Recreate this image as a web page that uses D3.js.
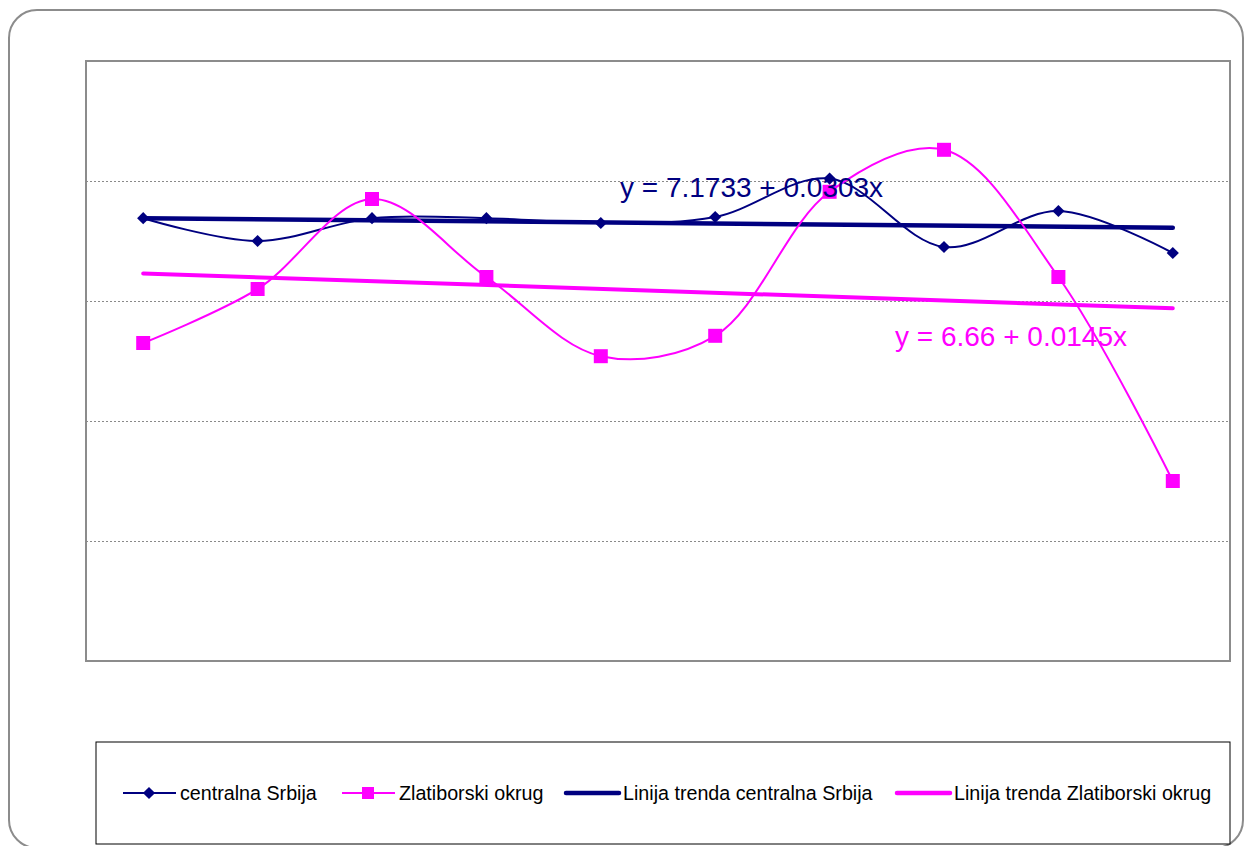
<!DOCTYPE html>
<html>
<head>
<meta charset="utf-8">
<script src="https://cdn.jsdelivr.net/npm/d3@7"></script>
<style>
  html, body { margin: 0; padding: 0; background: #fff; }
  svg { display: block; font-family: "Liberation Sans", Arial, sans-serif; }
</style>
</head>
<body>
<svg id="chart" width="1246" height="846"></svg>
<script>
// Ten periods along the x axis (no tick labels shown)
const categories = [1, 2, 3, 4, 5, 6, 7, 8, 9, 10];

// Series values
const centralnaSrbija = [7.19, 7.00, 7.19, 7.19, 7.15, 7.20, 7.52, 6.95, 7.25, 6.90];
const zlatiborskiOkrug = [6.15, 6.60, 7.35, 6.70, 6.04, 6.21, 7.41, 7.76, 6.70, 5.00];

// Linear trend lines (value at first and last period)
const trendCentralna = [7.19, 7.11];
const trendZlatibor = [6.73, 6.44];

// Trend equations shown on the chart
const eqCentralna = "y = 7.1733 + 0.0303x";
const eqZlatibor = "y = 6.66 + 0.0145x";

// Value axis gridlines
const gridValues = [4.5, 5.5, 6.5, 7.5];
const yDomain = [3.5, 8.5];

const legendLabels = ["centralna Srbija", "Zlatiborski okrug", "Linija trenda centralna Srbija", "Linija trenda Zlatiborski okrug"];

const NAVY = "#000080", PINK = "#ff00ff";

const svg = d3.select("#chart");

// outer rounded frame
svg.append("rect")
  .attr("x", 9).attr("y", 10).attr("width", 1234).attr("height", 838)
  .attr("rx", 28).attr("ry", 28)
  .attr("fill", "#fff").attr("stroke", "#8c8c8c").attr("stroke-width", 2);

const plot = { left: 86, right: 1230, top: 61, bottom: 661 };

const x = d3.scaleBand().domain(categories).range([plot.left, plot.right]);
const xc = d => x(d) + x.bandwidth() / 2;
const y = d3.scaleLinear().domain(yDomain).range([plot.bottom, plot.top]);

// gridlines
const grid = d3.axisLeft(y).tickValues(gridValues)
  .tickSize(-(plot.right - plot.left)).tickFormat("");
const gg = svg.append("g").attr("transform", `translate(${plot.left},0)`).call(grid);
gg.select(".domain").remove();
gg.selectAll(".tick line").attr("stroke", "#8a8a8a").attr("stroke-width", 1)
  .attr("stroke-dasharray", "2,2");

// plot frame
svg.append("rect")
  .attr("x", plot.left).attr("y", plot.top)
  .attr("width", plot.right - plot.left).attr("height", plot.bottom - plot.top)
  .attr("fill", "none").attr("stroke", "#8c8c8c").attr("stroke-width", 2);

const smooth = d3.line().x((d, i) => xc(categories[i])).y(d => y(d))
  .curve(d3.curveCatmullRom.alpha(0.5));

// trend lines
const trendLine = d3.line()
  .x((d, i) => xc(categories[i === 0 ? 0 : categories.length - 1]))
  .y(d => y(d));

svg.append("path").datum(trendZlatibor).attr("d", trendLine)
  .attr("fill", "none").attr("stroke", PINK).attr("stroke-width", 4).attr("stroke-linecap", "round");

// smoothed series lines
svg.append("path").datum(centralnaSrbija).attr("d", smooth)
  .attr("fill", "none").attr("stroke", NAVY).attr("stroke-width", 2);

svg.append("path").datum(trendCentralna).attr("d", trendLine)
  .attr("fill", "none").attr("stroke", NAVY).attr("stroke-width", 4.5).attr("stroke-linecap", "round");

svg.append("path").datum(zlatiborskiOkrug).attr("d", smooth)
  .attr("fill", "none").attr("stroke", PINK).attr("stroke-width", 2);

// markers
const diamond = d3.symbol().type(d3.symbolDiamond2).size(95);
svg.append("g").selectAll("path").data(centralnaSrbija).join("path")
  .attr("d", diamond)
  .attr("transform", (d, i) => `translate(${xc(categories[i])},${y(d)})`)
  .attr("fill", NAVY);

svg.append("g").selectAll("rect").data(zlatiborskiOkrug).join("rect")
  .attr("x", (d, i) => xc(categories[i]) - 7).attr("y", d => y(d) - 7)
  .attr("width", 14).attr("height", 14).attr("fill", PINK);

// trend equations
svg.append("text").attr("x", 620).attr("y", 197).attr("font-size", 28)
  .attr("fill", NAVY).text(eqCentralna);
svg.append("text").attr("x", 895).attr("y", 346).attr("font-size", 28)
  .attr("fill", PINK).text(eqZlatibor);

// legend
svg.append("rect").attr("x", 96).attr("y", 742).attr("width", 1134).attr("height", 102)
  .attr("fill", "#fff").attr("stroke", "#000").attr("stroke-width", 1);

const legendX = [123, 342, 566, 897];
const legendY = 793;
const lg = svg.append("g");
legendLabels.forEach((lab, i) => {
  const x0 = legendX[i];
  const isTrend = i >= 2;
  const color = i % 2 === 0 ? NAVY : PINK;
  lg.append("line").attr("x1", x0).attr("x2", x0 + 53)
    .attr("y1", legendY).attr("y2", legendY)
    .attr("stroke", color).attr("stroke-width", isTrend ? 4.5 : 2)
    .attr("stroke-linecap", isTrend ? "round" : "butt");
  if (i === 0) {
    lg.append("path").attr("d", diamond)
      .attr("transform", `translate(${x0 + 26},${legendY})`).attr("fill", NAVY);
  } else if (i === 1) {
    lg.append("rect").attr("x", x0 + 26 - 6).attr("y", legendY - 6)
      .attr("width", 12).attr("height", 12).attr("fill", PINK);
  }
  lg.append("text").attr("x", x0 + 57).attr("y", legendY + 7)
    .attr("font-size", 19.7).attr("fill", "#000").text(lab);
});
</script>
</body>
</html>
